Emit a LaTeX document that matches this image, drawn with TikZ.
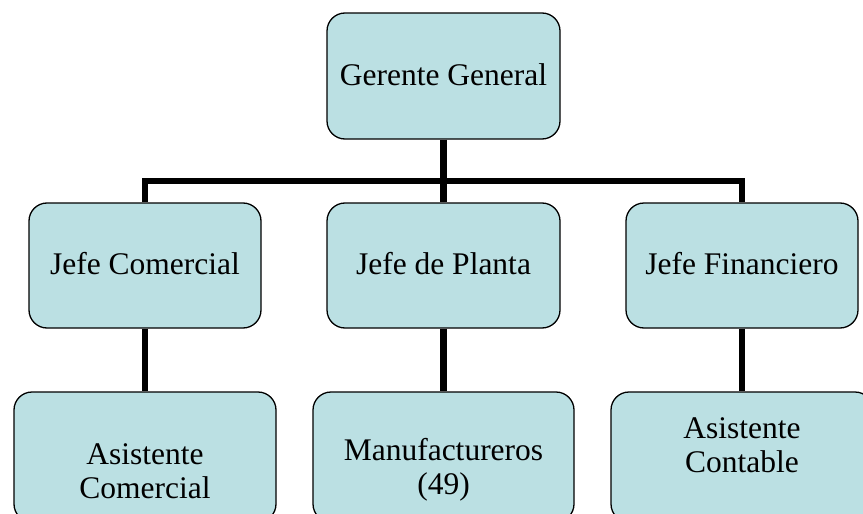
\documentclass[tikz,border=0pt]{standalone}
\usepackage{fontspec}
\setmainfont{Liberation Serif}
\definecolor{boxfill}{RGB}{187,224,227}
\begin{document}
\begin{tikzpicture}[x=1pt,y=-1pt,
  box/.style={draw=black, line width=1.3pt, fill=boxfill, rounded corners=18pt,
    rectangle, inner sep=0pt},
  lbl/.style={align=center, font=\fontsize{31.5}{34}\selectfont, inner sep=0pt},
  conn/.style={line width=6.5pt, black}]
\useasboundingbox (0,0) rectangle (863,514);
% top
\node[box, minimum width=233pt, minimum height=126pt] (gg) at (443.5,76) {};
% middle row
\node[box, minimum width=232pt, minimum height=125pt] (jc) at (145,265.5) {};
\node[box, minimum width=233pt, minimum height=125pt] (jp) at (443.5,265.5) {};
\node[box, minimum width=232pt, minimum height=125pt] (jf) at (742,265.5) {};
% bottom row
\node[box, minimum width=262pt, minimum height=130pt] (ac) at (145,457) {};
\node[box, minimum width=261pt, minimum height=130pt] (mf) at (443.5,457) {};
\node[box, minimum width=262pt, minimum height=130pt] (ct) at (742,457) {};
% connectors
\coordinate (bus) at (443.5,181);
\draw[conn] (gg.south) -- (bus);
\draw[conn] (jc.north) |- (bus) -| (jf.north);
\draw[conn] (bus) -- (jp.north);
\draw[conn] (jc.south) -- (ac.north);
\draw[conn] (jp.south) -- (mf.north);
\draw[conn] (jf.south) -- (ct.north);
% labels
\node[lbl] (tgg) at (443.5,75) {Gerente General};
\node[lbl] (tjc) at (145,264) {Jefe Comercial};
\node[lbl] (tjp) at (443.5,264) {Jefe de Planta};
\node[lbl] (tjf) at (742,264) {Jefe Financiero};
\node[lbl] (tac) at (145,471) {Asistente\\Comercial};
\node[lbl] (tmf) at (443.5,470) {Manufactureros\\(49)};
\node[lbl] (tct) at (742,445) {Asistente\\Contable};
\end{tikzpicture}
\end{document}
